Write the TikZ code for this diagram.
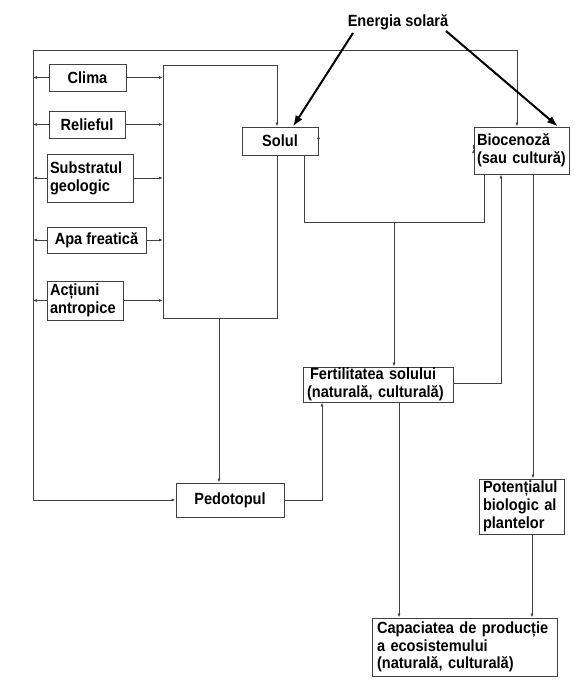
\documentclass[tikz,border=0pt]{standalone}
\usepackage{fontspec}
\setmainfont{Liberation Sans}[FakeStretch=0.9]
\usetikzlibrary{arrows.meta,calc}
\begin{document}
\begin{tikzpicture}[x=1pt,y=-1pt,
  every node/.style={font=\fontsize{16.2}{17.8}\selectfont\bfseries, text=black},
  box/.style={draw=black!75, line width=0.9pt, inner ysep=0pt, align=left,
    execute at begin node={\hyphenpenalty=10000\exhyphenpenalty=10000}},
  ln/.style={draw=black!75, line width=0.8pt},
  arr/.style={ln, -{Latex[length=4pt,width=3pt]}},
  sun/.style={draw=black, line width=2pt, -{Latex[length=11pt,width=8pt]}}]
\useasboundingbox (0,0) rectangle (575,688);
% boxes
\node[box, minimum width=77, minimum height=27, align=center] (clima) at (87.5,77.5) {Clima};
\node[box, minimum width=76, minimum height=27, align=center] (relief) at (87,124.5) {Relieful};
\node[box, minimum width=86, minimum height=48, text width=80, inner xsep=3] (subst) at (90,178) {Substratul\\geologic};
\node[box, minimum width=99, minimum height=26, align=center] (apa) at (96.5,240) {Apa freatică};
\node[box, minimum width=76, minimum height=39, text width=70, inner xsep=3] (actiuni) at (85,300.5) {Acțiuni\\antropice};
\node[box, minimum width=76, minimum height=28, align=center] (solul) at (280,141) {Solul};
\node[box, minimum width=95, minimum height=47, text width=93, inner xsep=1] (bio) at (521.5,150.5) {\hspace*{2pt}Biocenoză\\\hspace*{2pt}(sau cultură)};
\node[box, minimum width=150, minimum height=35, text width=142, inner xsep=4] (fert) at (378,384.5) {\hspace*{3pt}Fertilitatea solului\\(naturală, culturală)};
\node[box, minimum width=108, minimum height=34, align=center] (pedo) at (230,500) {Pedotopul};
\node[box, minimum width=85, minimum height=55, text width=79, inner xsep=3] (pot) at (521.5,506.5) {\hspace*{1pt}Potențialul\\\hspace*{1pt}biologic al\\\hspace*{1pt}plantelor};
\node[box, minimum width=185, minimum height=58, text width=179, inner xsep=3] (cap) at (464.5,647) {\hspace*{2pt}Capaciatea de producție\\\hspace*{2pt}a ecosistemului\\\hspace*{2pt}(naturală, culturală)};
\node (sun) at (398,22) {Energia solară};
% helper coordinates
\coordinate (L) at (33,50);
\coordinate (R) at (517,50);
\coordinate (BL) at (163,65);
\coordinate (BR) at (277,65);
\coordinate (BBL) at (163,318);
\coordinate (BBR) at (277,318);
\coordinate (BM) at (219,318);
\coordinate (J1) at (304,222);
\coordinate (J2) at (484,222);
\coordinate (J3) at (394,222);
% outer loop
\draw[arr] (R) -- (L) -- (L |- pedo.west) -- (pedo.west);
\draw[arr] (L) -- (R) -- (R |- bio.north);
% left factor boxes
\foreach \n in {clima,relief,subst,apa,actiuni}{
  \draw[arr] (\n.west) -- (\n.west -| L);
  \draw[arr] (\n.east) -- (\n.east -| BL);
}
% collector frame
\draw[ln] (BR |- solul.south) -- (BBR) -- (BBL) -- (BL);
\draw[arr] (BL) -- (BR) -- (BR |- solul.north);
\draw[arr] (BM) -- (BM |- pedo.north);
% solul <-> biocenoza
\draw[arr] ($(solul.east)+(0,-6)$) -- ($(solul.east)+(0,-6)$ -| bio.west);
\draw[arr] ($(bio.west)+(0,-1.5)$) -- ($(bio.west)+(0,-1.5)$ -| solul.east);
% solul/bio to fertilitate
\draw[ln] (J1 |- solul.south) -- (J1) -- (J2) -- (J2 |- bio.south);
\draw[arr] (J3) -- (J3 |- fert.north);
% fertilitate -> biocenoza
\draw[arr] ($(fert.east)+(0,-1.5)$) -| (501,0 |- bio.south);
% pedotop -> fertilitate
\draw[arr] (pedo.east) -| (322,0 |- fert.south);
% fertilitate -> capacitate
\draw[arr] (399,0 |- fert.south) -- (399,0 |- cap.north);
% bio -> potential -> capacitate
\draw[arr] (533,0 |- bio.south) -- (533,0 |- pot.north);
\draw[arr] (532,0 |- pot.south) -- (532,0 |- cap.north);
% solar energy
\draw[sun] (353,33) -- (293,0 |- solul.north);
\draw[sun] (446,31) -- (558,0 |- bio.north);
\end{tikzpicture}
\end{document}
